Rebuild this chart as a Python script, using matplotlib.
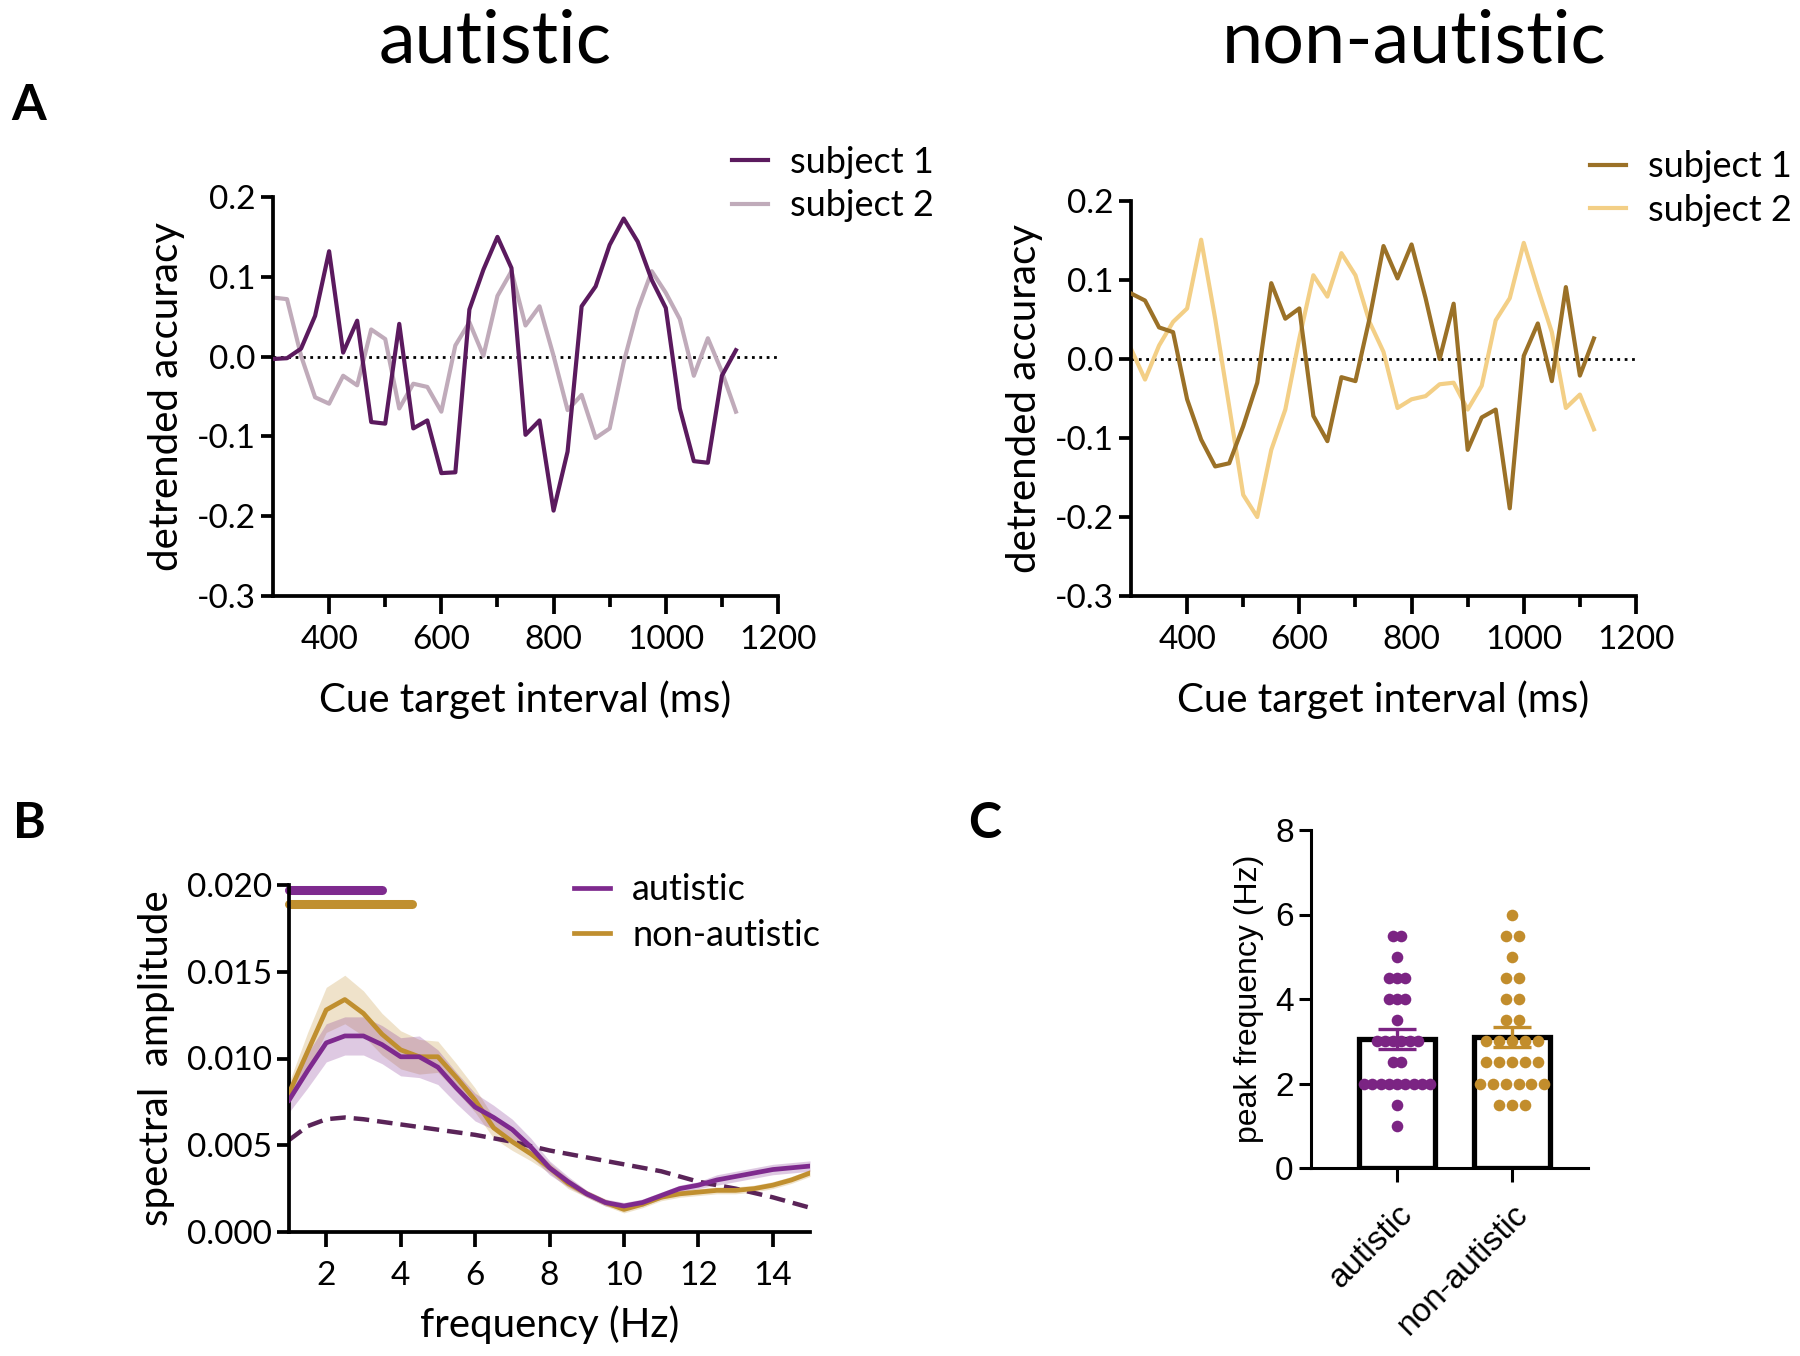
import numpy as np
import matplotlib
matplotlib.use("Agg")
import matplotlib.pyplot as plt

plt.rcParams["font.family"] = ["Lato", "DejaVu Sans"]
plt.rcParams["axes.unicode_minus"] = False

# ---------- data ----------
CTI = [300, 325, 350, 375, 400, 425, 450, 475, 500, 525, 550, 575, 600, 625, 650,
       675, 700, 725, 750, 775, 800, 825, 850, 875, 900, 925, 950, 975, 1000, 1025,
       1050, 1075, 1100, 1125]

aut_s1 = [-0.003, -0.002, 0.010, 0.051, 0.132, 0.005, 0.045, -0.082, -0.084, 0.041,
          -0.090, -0.080, -0.146, -0.145, 0.059, 0.109, 0.150, 0.111, -0.098, -0.080,
          -0.193, -0.119, 0.063, 0.088, 0.140, 0.173, 0.144, 0.096, 0.061, -0.065,
          -0.131, -0.133, -0.024, 0.008]
aut_s2 = [0.074, 0.072, 0.001, -0.051, -0.059, -0.024, -0.036, 0.034, 0.022, -0.065,
          -0.034, -0.038, -0.069, 0.014, 0.043, 0.001, 0.076, 0.107, 0.039, 0.063,
          0.001, -0.067, -0.048, -0.102, -0.090, -0.007, 0.059, 0.107, 0.080, 0.047,
          -0.024, 0.023, -0.019, -0.069]
non_s1 = [0.083, 0.074, 0.040, 0.034, -0.051, -0.102, -0.136, -0.132, -0.085, -0.030,
          0.096, 0.051, 0.064, -0.072, -0.104, -0.023, -0.028, 0.051, 0.143, 0.102,
          0.145, 0.077, 0.000, 0.070, -0.115, -0.074, -0.064, -0.189, 0.004, 0.045,
          -0.028, 0.091, -0.021, 0.026]
non_s2 = [0.013, -0.026, 0.017, 0.047, 0.064, 0.151, 0.051, -0.060, -0.172, -0.200,
          -0.115, -0.064, 0.026, 0.106, 0.079, 0.134, 0.106, 0.047, 0.009, -0.062,
          -0.051, -0.047, -0.032, -0.030, -0.064, -0.034, 0.049, 0.077, 0.147, 0.089,
          0.034, -0.062, -0.045, -0.089]

FREQS = [1.0, 1.5, 2.0, 2.5, 3.0, 3.5, 4.0, 4.5, 5.0, 5.5, 6.0, 6.5, 7.0, 7.5, 8.0,
         8.5, 9.0, 9.5, 10.0, 10.5, 11.0, 11.5, 12.0, 12.5, 13.0, 13.5, 14.0, 14.5, 15.0]
spec_aut = [0.0076, 0.0093, 0.0109, 0.0113, 0.0113, 0.0108, 0.0101, 0.0101, 0.0095,
            0.0083, 0.0072, 0.0066, 0.0059, 0.0049, 0.0037, 0.0029, 0.0022, 0.0017,
            0.0015, 0.0017, 0.0021, 0.0025, 0.0027, 0.0030, 0.0032, 0.0034, 0.0036,
            0.0037, 0.0038]
sem_aut = [0.0007, 0.0010, 0.0011, 0.0011, 0.0011, 0.0011, 0.0011, 0.0012, 0.0010,
           0.0009, 0.0008, 0.0007, 0.0006, 0.0005, 0.0004, 0.0003, 0.0002, 0.0002,
           0.0002, 0.0002, 0.0002, 0.0002, 0.0002, 0.0003, 0.0003, 0.0003, 0.0003,
           0.0003, 0.0003]
spec_non = [0.0080, 0.0104, 0.0128, 0.0134, 0.0126, 0.0114, 0.0105, 0.0101, 0.0101,
            0.0089, 0.0076, 0.0060, 0.0052, 0.0045, 0.0037, 0.0028, 0.0022, 0.0017,
            0.0013, 0.0016, 0.0020, 0.0022, 0.0023, 0.0024, 0.0024, 0.0025, 0.0027,
            0.0030, 0.0034]
sem_non = [0.0006, 0.0011, 0.0013, 0.0014, 0.0013, 0.0012, 0.0011, 0.0010, 0.0009,
           0.0008, 0.0007, 0.0006, 0.0005, 0.0004, 0.0003, 0.0003, 0.0002, 0.0002,
           0.0002, 0.0002, 0.0002, 0.0002, 0.0002, 0.0002, 0.0002, 0.0002, 0.0002,
           0.0002, 0.0002]

NULL_FREQ = [1, 1.5, 2, 2.5, 3, 4, 5, 6, 7, 8, 9, 10, 11, 12, 13, 14, 15]
null_spec = [0.0053, 0.0061, 0.0065, 0.0066, 0.0065, 0.0062, 0.0059, 0.0056, 0.0052,
             0.0047, 0.0043, 0.0039, 0.0035, 0.0029, 0.0025, 0.0020, 0.0014]

# significant frequency ranges (start, end, y)
sig_aut = (1.0, 3.5, 0.0197)
sig_non = (1.0, 4.3, 0.0189)

# peak frequencies: value -> number of subjects
peak_levels = [1.0, 1.5, 2.0, 2.5, 3.0, 3.5, 4.0, 4.5, 5.0, 5.5, 6.0]
peak_count_aut = [1, 1, 9, 2, 6, 1, 3, 3, 1, 2, 0]
peak_count_non = [0, 3, 6, 5, 5, 2, 2, 2, 1, 2, 1]
GROUPS = ["autistic", "non-autistic"]

# colours
C_AUT1 = "#5b1a5e"
C_AUT2 = "#c0abba"
C_NON1 = "#9b7127"
C_NON2 = "#f3cf86"
C_AUT = "#7e2a8e"
C_NON = "#c08f2f"
C_NULL = "#5a2458"

W, H = 1800, 1356
fig = plt.figure(figsize=(W / 100, H / 100), dpi=100)


def rect(left, top, right, bottom):
    return [left / W, 1 - bottom / H, (right - left) / W, (bottom - top) / H]


def style_axes(ax, lw=2.7):
    for s in ["top", "right"]:
        ax.spines[s].set_visible(False)
    for s in ["left", "bottom"]:
        ax.spines[s].set_linewidth(lw)
    ax.tick_params(which="major", direction="out", length=9, width=lw, labelsize=24)
    ax.tick_params(which="minor", direction="out", length=6, width=lw)


def panel_a(ax, s1, s2, c1, c2):
    ax.axhline(0, color="black", ls=":", lw=2.0, zorder=1)
    ax.plot(CTI, s1, color=c1, lw=3.0, label="subject 1", zorder=3)
    ax.plot(CTI, s2, color=c2, lw=3.0, label="subject 2", zorder=2)
    ax.set_xlim(300, 1200)
    ax.set_ylim(-0.3, 0.2)
    ax.set_xticks([400, 600, 800, 1000, 1200])
    ax.set_xticks([500, 700, 900, 1100], minor=True)
    ax.set_yticks([-0.3, -0.2, -0.1, 0.0, 0.1, 0.2])
    ax.set_yticklabels(["-0.3", "-0.2", "-0.1", "0.0", "0.1", "0.2"])
    style_axes(ax)
    ax.tick_params(axis="x", which="major", length=13, pad=8)
    ax.tick_params(axis="x", which="minor", length=8)
    ax.set_xlabel("Cue target interval (ms)", fontsize=29, labelpad=18)
    ax.set_ylabel("detrended accuracy", fontsize=29, labelpad=8)
    ax.legend(loc="upper left", bbox_to_anchor=(0.88, 1.165), frameon=False,
              fontsize=26, handlelength=1.0, handletextpad=0.6, borderaxespad=0,
              labelspacing=0.3)


# ---------- panel A ----------
ax1 = fig.add_axes(rect(273, 197, 778, 596))
panel_a(ax1, aut_s1, aut_s2, C_AUT1, C_AUT2)
ax2 = fig.add_axes(rect(1131, 201, 1636, 596))
panel_a(ax2, non_s1, non_s2, C_NON1, C_NON2)

fig.text(495 / W, 1 - 42 / H, "autistic", fontsize=53, ha="center", va="center")
fig.text(1414 / W, 1 - 42 / H, "non-autistic", fontsize=53, ha="center", va="center")

# ---------- panel B ----------
ax3 = fig.add_axes(rect(289, 885, 810, 1232))
ax3.fill_between(FREQS, np.array(spec_non) - np.array(sem_non),
                 np.array(spec_non) + np.array(sem_non), color=C_NON, alpha=0.25, lw=0)
ax3.fill_between(FREQS, np.array(spec_aut) - np.array(sem_aut),
                 np.array(spec_aut) + np.array(sem_aut), color=C_AUT, alpha=0.25, lw=0)
ax3.plot(FREQS, spec_non, color=C_NON, lw=3.4, label="non-autistic", zorder=3)
ax3.plot(FREQS, spec_aut, color=C_AUT, lw=3.4, label="autistic", zorder=4)
ax3.plot(NULL_FREQ, null_spec, color=C_NULL, lw=3.2, ls=(0, (3.5, 1.8)), zorder=2)
for (x0, x1, y), c in [(sig_aut, C_AUT), (sig_non, C_NON)]:
    ax3.plot([x0, x1], [y, y], color=c, lw=6.5, solid_capstyle="round", clip_on=False)
ax3.set_xlim(1, 15)
ax3.set_ylim(0, 0.020)
ax3.set_xticks([2, 4, 6, 8, 10, 12, 14])
ax3.set_yticks([0.0, 0.005, 0.010, 0.015, 0.020])
ax3.set_yticklabels(["0.000", "0.005", "0.010", "0.015", "0.020"])
style_axes(ax3)
ax3.tick_params(axis="x", length=11, pad=10)
ax3.set_xlabel("frequency (Hz)", fontsize=29, labelpad=10)
ax3.set_ylabel("spectral  amplitude", fontsize=29, labelpad=8)
h, l = ax3.get_legend_handles_labels()
ax3.legend([h[1], h[0]], [l[1], l[0]], loc="upper left", bbox_to_anchor=(0.52, 1.075),
           frameon=False, fontsize=26, handlelength=1.0, handletextpad=0.6,
           borderaxespad=0, labelspacing=0.35)

# ---------- panel C ----------
ax4 = fig.add_axes(rect(1311, 830, 1588, 1168))
for gi, (counts, col, gap) in enumerate([(peak_count_aut, "#7b2483", 0.072),
                                          (peak_count_non, "#c28d2c", 0.112)]):
    vals = np.repeat(peak_levels, counts)
    mean = vals.mean()
    sem = vals.std(ddof=1) / np.sqrt(len(vals))
    ax4.bar(gi, mean, width=0.66, color="white", edgecolor="black", lw=3.8, zorder=1)
    for lev, n in zip(peak_levels, counts):
        if n == 0:
            continue
        xs = gi + (np.arange(n) - (n - 1) / 2) * gap
        ax4.scatter(xs, [lev] * n, s=70, color=col, lw=0, zorder=2)
    ax4.errorbar(gi, mean, yerr=sem, color=col, lw=2.4, capsize=14, capthick=2.4, zorder=3)
ax4.set_xlim(-0.75, 1.66)
ax4.set_ylim(0, 8)
ax4.set_yticks([0, 2, 4, 6, 8])
ax4.set_xticks([0, 1])
ax4.set_xticklabels(GROUPS, rotation=45, ha="right", rotation_mode="anchor",
                    fontfamily="Liberation Sans")
for t in ax4.get_yticklabels():
    t.set_fontfamily("Liberation Sans")
style_axes(ax4, lw=2.2)
ax4.tick_params(labelsize=24)
ax4.tick_params(axis="x", length=10, pad=12)
ax4.set_ylabel("peak frequency (Hz)", fontsize=23, fontfamily="Liberation Sans", labelpad=8)

# panel letters
fig.text(29 / W, 1 - 106 / H, "A", fontsize=36, fontweight="bold", ha="center", va="center")
fig.text(29 / W, 1 - 824 / H, "B", fontsize=36, fontweight="bold", ha="center", va="center")
fig.text(985 / W, 1 - 824 / H, "C", fontsize=36, fontweight="bold", ha="center", va="center")

fig.savefig("out.png", dpi=100, facecolor="white")
